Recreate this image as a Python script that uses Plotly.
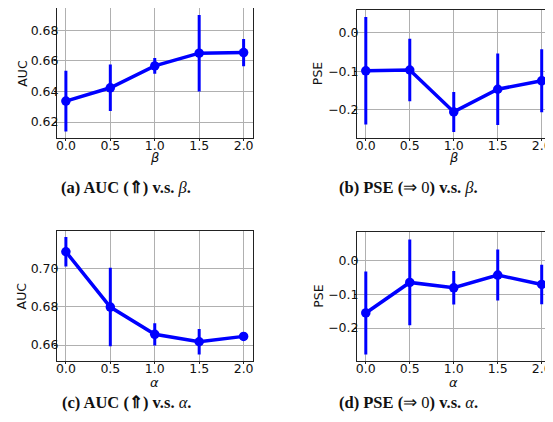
import plotly.graph_objects as go

# ---- data ----
x_vals = [0.0, 0.5, 1.0, 1.5, 2.0]
x_ticks = ["0.0", "0.5", "1.0", "1.5", "2.0"]

auc_beta = [0.6337, 0.6424, 0.6567, 0.6650, 0.6654]
auc_beta_err = [0.0198, 0.0152, 0.0052, 0.0250, 0.0089]

pse_beta = [-0.099, -0.097, -0.206, -0.147, -0.125]
pse_beta_err = [0.140, 0.081, 0.052, 0.093, 0.082]

auc_alpha = [0.7087, 0.6798, 0.6656, 0.6617, 0.6645]
auc_alpha_err = [0.0077, 0.0205, 0.0058, 0.0066, 0.0010]

pse_alpha = [-0.155, -0.064, -0.080, -0.042, -0.070]
pse_alpha_err = [0.124, 0.128, 0.050, 0.076, 0.059]

captions = [
    "<b>(a) AUC (⇑) v.s. </b><i>β</i><b>.</b>",
    "<b>(b) PSE (</b>⇒ 0<b>) v.s. </b><i>β</i><b>.</b>",
    "<b>(c) AUC (⇑) v.s. </b><i>α</i><b>.</b>",
    "<b>(d) PSE (</b>⇒ 0<b>) v.s. </b><i>α</i><b>.</b>",
]

# page body has an 8px margin; figure is sized to fill the rest of the window
OFF = 8
W, H = 553 - OFF, 422 - OFF
BLUE = "#0000ff"


def px_x(p):
    return (p - OFF) / W


def px_y(p):
    return 1 - (p - OFF) / H


panels = [
    (auc_beta, auc_beta_err, "AUC", "<i>β</i>", (57, 252.5, 8.3, 137.7), [0.6098, 0.6943],
     [0.62, 0.64, 0.66, 0.68], ["0.62", "0.64", "0.66", "0.68"], 21.7, 157.5),
    (pse_beta, pse_beta_err, "PSE", "<i>β</i>", (357, 550.5, 10, 137.7), [-0.273, 0.059],
     [-0.2, -0.1, 0.0], ["−0.2", "−0.1", "0.0"], 318.3, 157.5),
    (auc_alpha, auc_alpha_err, "AUC", "<i>α</i>", (57, 252.5, 230.7, 360.7), [0.6518, 0.7197],
     [0.66, 0.68, 0.70], ["0.66", "0.68", "0.70"], 21.7, 382),
    (pse_alpha, pse_alpha_err, "PSE", "<i>α</i>", (357, 550.5, 232.3, 360.7), [-0.2975, 0.0856],
     [-0.2, -0.1, 0.0], ["−0.2", "−0.1", "0.0"], 318.3, 382),
]

fig = go.Figure()
layout = dict(
    width=W, height=H,
    margin=dict(l=0, r=0, t=0, b=0, autoexpand=False),
    paper_bgcolor="white", plot_bgcolor="white",
    showlegend=False,
    font=dict(family="DejaVu Sans", size=12.5, color="#000000"),
)
annotations = []
TICKFONT = dict(family="DejaVu Sans", size=12.5, color="#111111")

for i, (yv, ev, ytitle, xtitle, box, yr, ytv, ytt, ytx, xty) in enumerate(panels):
    n = i + 1
    xa = "x" if n == 1 else f"x{n}"
    ya = "y" if n == 1 else f"y{n}"
    fig.add_trace(go.Scatter(
        x=x_vals, y=yv, xaxis=xa, yaxis=ya,
        mode="lines+markers",
        line=dict(color=BLUE, width=3.5),
        marker=dict(color=BLUE, size=9.5),
        error_y=dict(type="data", array=ev, visible=True, color=BLUE,
                     thickness=3, width=0),
        cliponaxis=True,
    ))
    x0, x1, yt, yb = box
    axkey_x = "xaxis" if n == 1 else f"xaxis{n}"
    axkey_y = "yaxis" if n == 1 else f"yaxis{n}"
    layout[axkey_x] = dict(
        domain=[px_x(x0), px_x(x1)], anchor=ya, range=[-0.1, 2.1],
        tickvals=x_vals, ticktext=x_ticks, automargin=False,
        showgrid=True, gridcolor="#b0b0b0", gridwidth=1,
        showline=True, linecolor="#222222", linewidth=1, mirror=True,
        ticks="outside", ticklen=2, tickcolor="#222222", zeroline=False,
        tickfont=TICKFONT, ticklabelstandoff=-6,
    )
    layout[axkey_y] = dict(
        domain=[px_y(yb), px_y(yt)], anchor=xa, range=yr,
        tickvals=ytv, ticktext=ytt, automargin=False,
        showgrid=True, gridcolor="#b0b0b0", gridwidth=1,
        showline=True, linecolor="#222222", linewidth=1, mirror=True,
        ticks="outside", ticklen=2, tickcolor="#222222", zeroline=False,
        tickfont=TICKFONT, ticklabelstandoff=-7,
    )
    # axis titles
    annotations.append(dict(
        x=px_x(ytx), y=px_y((yt + yb) / 2), xref="paper", yref="paper",
        text=ytitle, textangle=-90, showarrow=False,
        xanchor="center", yanchor="middle",
        font=dict(family="DejaVu Sans", size=12.5, color="#111111"),
    ))
    annotations.append(dict(
        x=px_x((x0 + x1) / 2), y=px_y(xty), xref="paper", yref="paper",
        text=xtitle, showarrow=False, xanchor="center", yanchor="middle",
        font=dict(family="DejaVu Sans", size=13, color="#111111"),
    ))

cap_pos = [(126, 188), (408, 188), (126, 402.5), (408, 402.5)]
for (cx, cy), txt in zip(cap_pos, captions):
    annotations.append(dict(
        x=px_x(cx), y=px_y(cy), xref="paper", yref="paper",
        text=txt, showarrow=False, xanchor="center", yanchor="middle",
        font=dict(family="Liberation Serif", size=16.5, color="#111111"),
    ))

layout["annotations"] = annotations
fig.update_layout(**layout)
fig.write_html("out.html")
